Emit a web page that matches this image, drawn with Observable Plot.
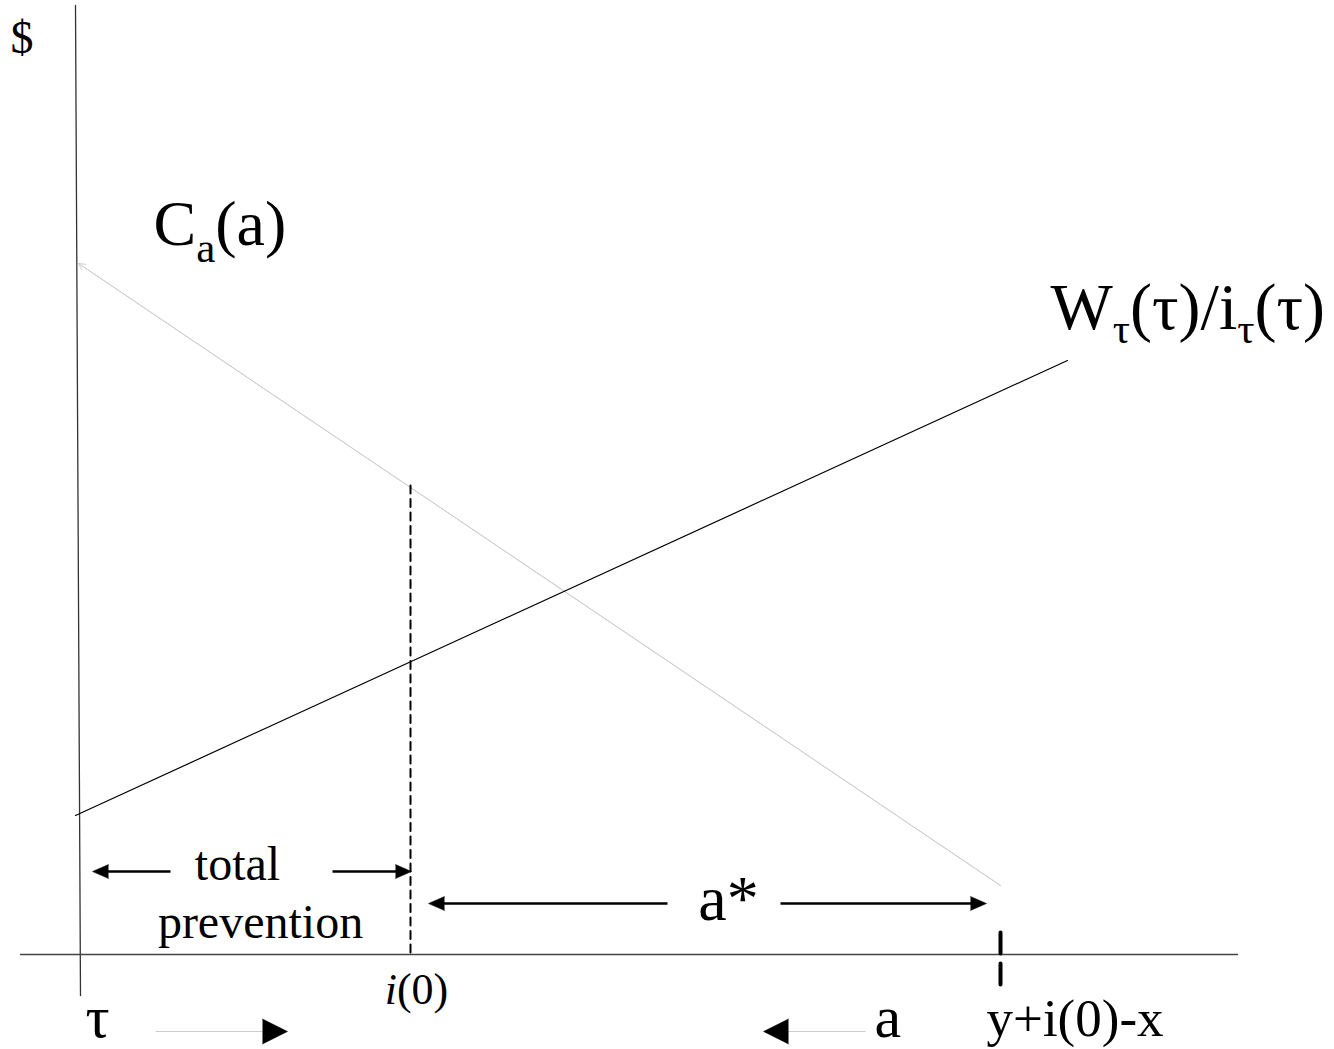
<!DOCTYPE html>
<html><head><meta charset="utf-8">
<script src="https://cdn.jsdelivr.net/npm/d3@7"></script>
<script src="https://cdn.jsdelivr.net/npm/@observablehq/plot@0.6"></script>
<style>body{margin:0;background:#fff}</style>
</head><body><div id="chart"></div>
<script>
// Diagram coordinates: origin where the axes cross, x to the right, y upward.
const yAxisLine = [{x: -3, y: 949}, {x: 2, y: -41}];
const xAxisLine = [{x: -58, y: 0}, {x: 1159, y: 0}];
const costCurve = [{x: 922, y: 69}, {x: 0, y: 691}];     // C_a(a)
const wageCurve = [{x: -3, y: 139}, {x: 989, y: 594}];   // W_τ(τ)/i_τ(τ)
const i0Line = [{x: 332, y: 469}, {x: 332, y: 2}];       // i(0)
const endTick = [{x: 922, y: 22}, {x: 922, y: -31}];     // y+i(0)-x
const arrows = [
  {from: 92, to: 14, y: 83, kind: "span"},
  {from: 254, to: 333, y: 83, kind: "span"},
  {from: 589, to: 350, y: 51, kind: "span"},
  {from: 702, to: 908, y: 51, kind: "span"},
  {from: 77, to: 209, y: -77, kind: "direction"},
  {from: 787, to: 685, y: -77, kind: "direction"}
];
const labels = [
  {x: -68, y: 902, text: "$", anchor: "start"},
  {x: 75, y: 710, text: "C_{a}(a)", anchor: "start"},
  {x: 972, y: 626, text: "W_{τ}(τ)/i_{τ}(τ)", anchor: "start"},
  {x: 159, y: 75, text: "total", anchor: "middle"},
  {x: 182, y: 17, text: "prevention", anchor: "middle"},
  {x: 338, y: -49, text: "~{i}(0)", anchor: "middle"},
  {x: 650, y: 35, text: "a*", anchor: "middle"},
  {x: 908, y: -81, text: "y+i(0)-x", anchor: "start"},
  {x: 7, y: -82, text: "τ", anchor: "start"},
  {x: 796, y: -82, text: "a", anchor: "start"}
];

// styles
const fontSizes = {"$": 46, "C_{a}(a)": 64, "W_{τ}(τ)/i_{τ}(τ)": 66, "total": 48, "prevention": 48,
  "~{i}(0)": 44, "a*": 64, "y+i(0)-x": 53, "τ": 60, "a": 60};
const subStyle = {"C_{a}(a)": {size: 43, shift: 17}, "W_{τ}(τ)/i_{τ}(τ)": {size: 43, shift: 14}};
const headStyle = {span: {length: 16, r: 7, width: 2.5, line: "#000"}, direction: {length: 25, r: 12.5, width: 1, line: "#cccccc"}};
const serif = "Liberation Serif, Times New Roman, serif";

const arrowMarks = Object.entries(headStyle).flatMap(([kind, s]) => {
  const data = arrows.filter(d => d.kind === kind);
  const dir = d => Math.sign(d.to - d.from);
  return [
    Plot.link(data, {x1: "from", y1: "y", x2: d => d.to - dir(d) * (s.length - 1), y2: "y",
      stroke: s.line, strokeWidth: s.width}),
    Plot.vector(data, {x: "to", y: "y", rotate: d => dir(d) > 0 ? 90 : -90, length: s.length,
      r: s.r, shape: "spike", anchor: "end", fill: "#000", stroke: "#000", strokeWidth: 0.5})
  ];
});

const textMark = anchor => Plot.text(labels.filter(d => d.anchor === anchor), {
  x: "x", y: "y", text: "text", textAnchor: anchor, lineAnchor: "bottom",
  fontSize: d => fontSizes[d.text], fontFamily: serif, fill: "#000"
});

const svg = Plot.plot({
  width: 1334, height: 1049, margin: 0,
  x: {domain: [-78, 1256], range: [0, 1334], axis: null},
  y: {domain: [-95, 954], range: [1049, 0], axis: null},
  style: {background: "#fff", fontFamily: serif},
  marks: [
    Plot.line(yAxisLine, {x: "x", y: "y", stroke: "#333", strokeWidth: 1.3}),
    Plot.line(xAxisLine, {x: "x", y: "y", stroke: "#444", strokeWidth: 1.4}),
    Plot.line(costCurve, {x: "x", y: "y", stroke: "#cfcfcf", strokeWidth: 1}),
    Plot.arrow([costCurve], {x1: d => d[0].x, y1: d => d[0].y, x2: d => d[1].x, y2: d => d[1].y,
      stroke: "#cfcfcf", strokeWidth: 1, headLength: 11, headAngle: 55}),
    Plot.line(wageCurve, {x: "x", y: "y", stroke: "#000", strokeWidth: 1.2}),
    Plot.line(i0Line, {x: "x", y: "y", stroke: "#000", strokeWidth: 2, strokeDasharray: "8,5.5"}),
    Plot.line(endTick, {x: "x", y: "y", stroke: "#000", strokeWidth: 4, strokeDasharray: "21,10"}),
    ...arrowMarks,
    textMark("start"),
    textMark("middle")
  ]
});

// rich text: _{...} subscript, ~{...} italic
d3.select(svg).selectAll("text").each(function () {
  const s = this.textContent;
  if (!/[_~]\{/.test(s)) return;
  const st = subStyle[s] || {size: 40, shift: 14};
  const sel = d3.select(this);
  sel.text(null);
  const re = /_\{([^}]*)\}|~\{([^}]*)\}|([^_~]+)/g;
  let m, lowered = false;
  while ((m = re.exec(s))) {
    if (m[1] != null) {
      sel.append("tspan").text(m[1]).attr("font-size", st.size).attr("dy", lowered ? 0 : st.shift);
      lowered = true;
    } else {
      const ts = sel.append("tspan").text(m[2] != null ? m[2] : m[3]);
      if (lowered) { ts.attr("dy", -st.shift); lowered = false; }
      if (m[2] != null) ts.attr("font-style", "italic");
    }
  }
});

document.getElementById("chart").append(svg);
</script>
</body></html>
